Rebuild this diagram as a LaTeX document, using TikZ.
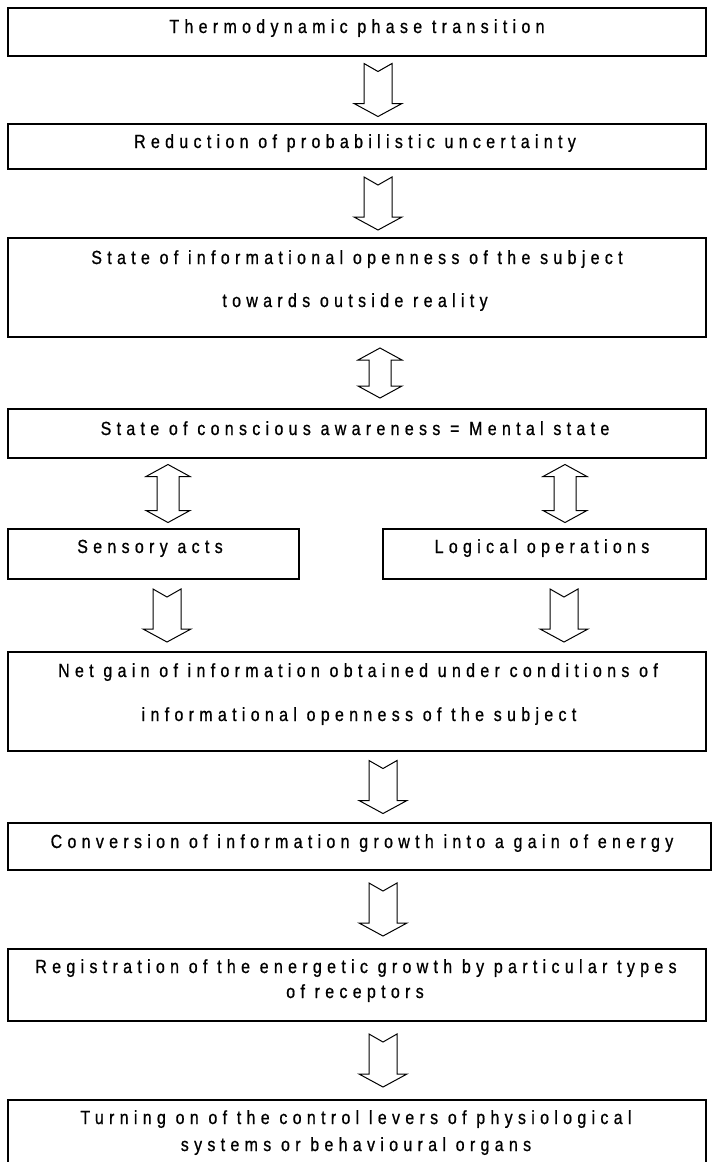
\documentclass[tikz,border=0pt]{standalone}
\usepackage{fontspec}
\setmainfont{Liberation Sans}[FakeStretch=0.84,LetterSpace=28,FakeBold=0.8]
\usetikzlibrary{calc}
\tikzset{
  box/.style={draw=black,line width=1.5pt,fill=white,inner sep=0pt},
  txt/.style={anchor=base,inner sep=0pt,font=\fontsize{19}{22}\selectfont,text=black},
  fatarr/.style={draw=black,line width=1pt,fill=white,line join=miter}
}
% notched down arrow centred in the gap between two nodes
\newcommand\fatdown[4]{% #1 x, #2 from node, #3 to node, #4 name of mid coordinate
  \path let \p1=(#2.south), \p2=(#3.north) in coordinate (#4) at (#1pt,{(\y1+\y2)/2});
  \draw[fatarr,shift={(#4)}] (-14,-26.5) -- (0,-18.5) -- (14,-26.5) -- (14,13.5) -- (24,13.5)
     -- (0,26.5) -- (-24,13.5) -- (-14,13.5) -- cycle;
}
% double headed arrow
\newcommand\fatboth[5]{% #1 x, #2 from, #3 to, #4 name, #5 half length
  \path let \p1=(#2.south), \p2=(#3.north) in coordinate (#4) at (#1pt,{(\y1+\y2)/2});
  \draw[fatarr,shift={(#4)}] (0,-#5) -- (22,{-#5+12}) -- (11,{-#5+12}) -- (11,{#5-12}) -- (22,{#5-12})
     -- (0,#5) -- (-22,{#5-12}) -- (-11,{#5-12}) -- (-11,{-#5+12}) -- (-22,{-#5+12}) -- cycle;
}
\begin{document}
\begin{tikzpicture}[x=1pt,y=-1pt]
\useasboundingbox (0,0) rectangle (712,1162);
\clip (0,0) rectangle (712,1162);
\fill[white] (0,0) rectangle (712,1162);

% boxes
\node[box,minimum width=698pt,minimum height=48pt] (b1) at (357,32) {};
\node[box,minimum width=698pt,minimum height=45pt] (b2) at (357,146.5) {};
\node[box,minimum width=698pt,minimum height=99pt] (b3) at (357,287.5) {};
\node[box,minimum width=698pt,minimum height=49pt] (b4) at (357,433.5) {};
\node[box,minimum width=291pt,minimum height=50pt] (b5) at (153.5,554) {};
\node[box,minimum width=323pt,minimum height=50pt] (b6) at (544.5,554) {};
\node[box,minimum width=698pt,minimum height=99pt] (b7) at (357,701.5) {};
\node[box,minimum width=703pt,minimum height=47pt] (b8) at (359.5,846.5) {};
\node[box,minimum width=698pt,minimum height=72pt] (b9) at (357,985) {};
\node[box,minimum width=698pt,minimum height=76pt] (b10) at (357,1138) {};

% texts
\node[txt] (t1) at (357,33) {Thermodynamic phase transition};
\node[txt] (t2) at (355,148) {Reduction of probabilistic uncertainty};
\node[txt] (t3a) at (357,264) {State of informational openness of the subject};
\node[txt] (t3b) at (355,307) {towards outside reality};
\node[txt] (t4) at (355,435) {State of conscious awareness = Mental state};
\node[txt] (t5) at (150,553) {Sensory acts};
\node[txt] (t6) at (542,553) {Logical operations};
\node[txt] (t7a) at (358,677) {Net gain of information obtained under conditions of};
\node[txt] (t7b) at (359,721) {informational openness of the subject};
\node[txt] (t8) at (362,848) {Conversion of information growth into a gain of energy};
\node[txt] (t9a) at (356,973) {Registration of the energetic growth by particular types};
\node[txt] (t9b) at (355,998) {of receptors};
\node[txt] (t10a) at (356,1124) {Turning on of the control levers of physiological};
\node[txt] (t10b) at (356,1151) {systems or behavioural organs};

% arrows
\fatdown{378}{b1}{b2}{m1}
\fatdown{378}{b2}{b3}{m2}
\fatboth{380}{b3}{b4}{m3}{25}
\fatboth{168}{b4}{b5}{m4}{29}
\fatboth{565}{b4}{b6}{m5}{29}
\fatdown{167}{b5}{b7}{m6}
\fatdown{564}{b6}{b7}{m7}
\fatdown{383}{b7}{b8}{m8}
\fatdown{383}{b8}{b9}{m9}
\fatdown{383}{b9}{b10}{m10}
\end{tikzpicture}
\end{document}
